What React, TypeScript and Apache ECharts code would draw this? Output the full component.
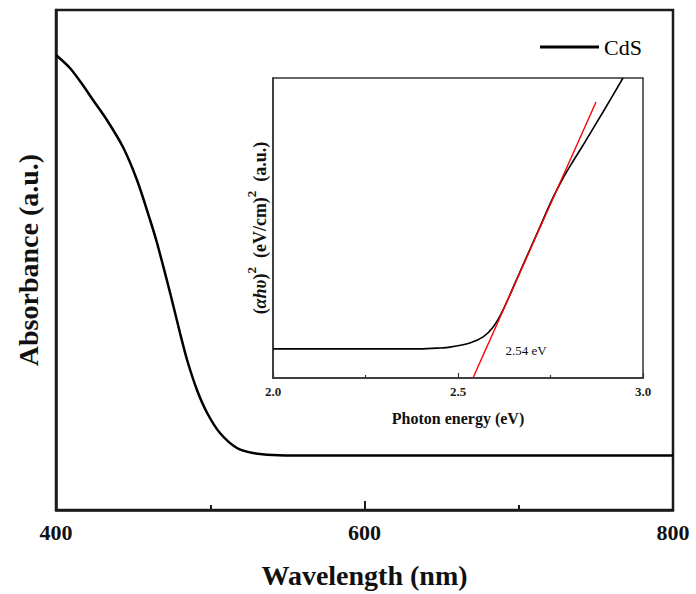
import React, { useEffect, useRef } from "react";
import * as echarts from "echarts";

// Main spectrum: wavelength (nm) vs absorbance (a.u., normalised 0..1 of axis)
const wavelength = [400, 409, 416.9, 424, 433, 443.4, 452.5, 461, 465.5, 474, 480.4, 485, 491.4, 498, 506.3, 517.3, 527.7, 540.7, 560, 600, 650, 700, 750, 800];
const absorbance = [0.91, 0.884, 0.852, 0.82, 0.78, 0.726, 0.66, 0.58, 0.534, 0.434, 0.354, 0.3, 0.24, 0.194, 0.154, 0.124, 0.114, 0.11, 0.109, 0.109, 0.109, 0.109, 0.109, 0.109];

// Inset Tauc plot: photon energy (eV) vs (αhυ)² (a.u.)
const energy = [2.0, 2.1, 2.2, 2.3, 2.397, 2.451, 2.478, 2.532, 2.568, 2.595, 2.6216, 2.6676, 2.7216, 2.7541, 2.7811, 2.8081, 2.8378, 2.8919, 2.9459];
const tauc = [0.097, 0.097, 0.097, 0.097, 0.097, 0.1, 0.103, 0.117, 0.137, 0.17, 0.2267, 0.3543, 0.5043, 0.5943, 0.66, 0.7167, 0.7757, 0.8867, 1.0];

// Linear fit (tangent) giving the band gap
const fitEnergy = [2.5405, 2.873];
const fitValue = [0, 0.92];
const bandGapLabel = "2.54 eV";
const bandGapLabelPos = [2.684, 0.093];

const mainTicks = [400, 600, 800];
const insetTicks = ["2.0", "2.5", "3.0"];

const FONT = "'Liberation Serif', 'Times New Roman', serif";

export default function App() {
  const ref = useRef<HTMLDivElement>(null);

  useEffect(() => {
    if (!ref.current) return;
    const chart = echarts.init(ref.current, undefined, { renderer: "svg" });
    const mainData = wavelength.map((w, i) => [w, absorbance[i]]);
    const insetData = energy.map((e, i) => [e, tauc[i]]);
    const fitData = fitEnergy.map((e, i) => [e, fitValue[i]]);

    chart.setOption({
      animation: false,
      backgroundColor: "#fff",
      textStyle: { fontFamily: FONT },
      legend: {
        data: ["CdS"],
        left: 535,
        top: 31,
        icon: "rect",
        itemWidth: 59,
        itemHeight: 3,
        textStyle: { fontFamily: FONT, fontSize: 22, color: "#000" },
      },
      grid: [
        {
          left: 56,
          right: 23,
          top: 10,
          bottom: 84,
          show: true,
          borderColor: "#1a1a1a",
          borderWidth: 2.5,
        },
        {
          left: 273,
          right: 53,
          top: 78,
          bottom: 216,
          show: true,
          backgroundColor: "#fff",
          borderColor: "#333",
          borderWidth: 1.5,
        },
      ],
      xAxis: [
        {
          gridIndex: 0,
          type: "value",
          min: 400,
          max: 800,
          interval: 200,
          name: "Wavelength (nm)",
          nameLocation: "middle",
          nameGap: 51,
          nameTextStyle: { fontFamily: FONT, fontSize: 28, fontWeight: "bold", color: "#111" },
          axisLine: { show: true, lineStyle: { color: "#1a1a1a", width: 2.5 } },
          axisTick: { show: true, inside: true, length: 9, lineStyle: { color: "#1a1a1a", width: 2 } },
          minorTick: { show: true, splitNumber: 2, length: 5, lineStyle: { color: "#1a1a1a", width: 2 } },
          splitLine: { show: false },
          axisLabel: {
            margin: 11,
            fontFamily: FONT,
            fontSize: 22,
            fontWeight: "bold",
            color: "#111",
            formatter: (v: number) => (mainTicks.includes(v) ? String(v) : ""),
          },
        },
        {
          gridIndex: 1,
          type: "value",
          min: 2.0,
          max: 3.0,
          interval: 0.5,
          name: "Photon energy (eV)",
          nameLocation: "middle",
          nameGap: 32,
          nameTextStyle: { fontFamily: FONT, fontSize: 16, fontWeight: "bold", color: "#111" },
          axisLine: { show: true, lineStyle: { color: "#333", width: 1.5 } },
          axisTick: { show: true, inside: true, length: 5, lineStyle: { color: "#333", width: 1.2 } },
          minorTick: { show: true, splitNumber: 2, length: 3, lineStyle: { color: "#333", width: 1.2 } },
          splitLine: { show: false },
          axisLabel: {
            margin: 7,
            fontFamily: FONT,
            fontSize: 13,
            fontWeight: "bold",
            color: "#222",
            formatter: (v: number) => {
              const s = v.toFixed(1);
              return insetTicks.includes(s) ? s : "";
            },
          },
        },
      ],
      yAxis: [
        {
          gridIndex: 0,
          type: "value",
          min: 0,
          max: 1,
          name: "Absorbance (a.u.)",
          nameLocation: "middle",
          nameGap: 14,
          nameTextStyle: { fontFamily: FONT, fontSize: 28, fontWeight: "bold", color: "#111" },
          axisLine: { show: true, lineStyle: { color: "#1a1a1a", width: 2.5 } },
          axisTick: { show: false },
          axisLabel: { show: false },
          splitLine: { show: false },
        },
        {
          gridIndex: 1,
          type: "value",
          min: 0,
          max: 1,
          name: "{b|(}{i|αhυ}{b|)}{s|2}{b|  (eV/cm)}{s|2}{b|  (a.u.)}",
          nameLocation: "middle",
          nameGap: 4,
          nameTextStyle: {
            fontFamily: FONT,
            fontSize: 18,
            color: "#111",
            rich: {
              i: { fontFamily: FONT, fontSize: 18, fontStyle: "italic", fontWeight: "bold", color: "#111", lineHeight: 24, verticalAlign: "bottom" },
              b: { fontFamily: FONT, fontSize: 18, fontWeight: "bold", color: "#111", lineHeight: 24, verticalAlign: "bottom" },
              s: { fontFamily: FONT, fontSize: 13, fontWeight: "bold", color: "#111", lineHeight: 13, verticalAlign: "top" },
            },
          },
          axisLine: { show: true, lineStyle: { color: "#333", width: 1.5 } },
          axisTick: { show: false },
          axisLabel: { show: false },
          splitLine: { show: false },
        },
      ],
      series: [
        {
          name: "CdS",
          type: "line",
          xAxisIndex: 0,
          yAxisIndex: 0,
          data: mainData,
          smooth: 0.3,
          symbol: "none",
          lineStyle: { color: "#000", width: 2.5 },
          itemStyle: { color: "#000" },
        },
        {
          name: "Tauc",
          type: "line",
          xAxisIndex: 1,
          yAxisIndex: 1,
          data: insetData,
          smooth: 0.3,
          symbol: "none",
          lineStyle: { color: "#000", width: 1.6 },
          z: 3,
        },
        {
          name: "Fit",
          type: "line",
          xAxisIndex: 1,
          yAxisIndex: 1,
          data: fitData,
          symbol: "none",
          lineStyle: { color: "#ff0000", width: 1.4 },
          z: 4,
          markPoint: {
            symbol: "circle",
            symbolSize: 0,
            data: [
              {
                coord: bandGapLabelPos,
                label: {
                  show: true,
                  position: "inside",
                  formatter: bandGapLabel,
                  fontFamily: FONT,
                  fontSize: 13,
                  color: "#111",
                },
              },
            ],
          },
        },
      ],
    });

    return () => chart.dispose();
  }, []);

  return (
    <div
      ref={ref}
      style={{ position: "fixed", left: 0, top: 0, width: 696, height: 594 }}
    />
  );
}
